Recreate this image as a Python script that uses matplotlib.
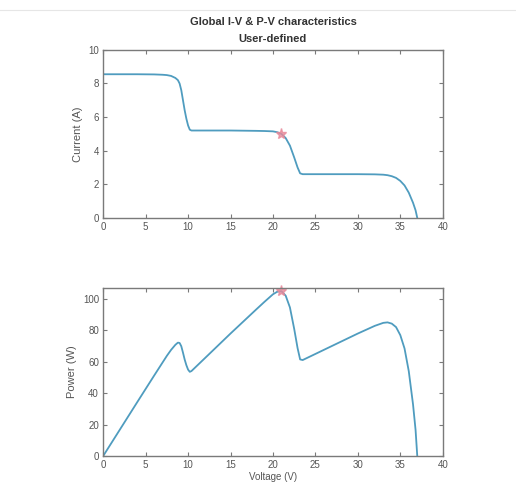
import matplotlib
matplotlib.use("Agg")
import matplotlib.pyplot as plt
from matplotlib.lines import Line2D

voltage = [0, 2, 4, 6, 7, 7.5, 8, 8.5, 8.8, 9.0, 9.2, 9.4, 9.6, 9.8, 10.0, 10.2, 10.4,
           12, 15, 18, 19, 20, 20.5, 21, 21.5, 22, 22.5, 22.9, 23.2, 23.5,
           26, 30, 32, 33, 33.5, 34, 34.5, 35, 35.5, 36, 36.5, 36.8, 37]
current = [8.55, 8.55, 8.55, 8.54, 8.52, 8.5, 8.45, 8.33, 8.2, 8.0, 7.6, 7.0, 6.4, 5.9,
           5.5, 5.25, 5.2, 5.2, 5.2, 5.18, 5.17, 5.15, 5.1, 5.0, 4.75, 4.3, 3.6, 3.0,
           2.65, 2.6, 2.6, 2.6, 2.59, 2.57, 2.54, 2.48, 2.38, 2.2, 1.93, 1.5, 0.9, 0.45, 0.0]
power = [0, 17.1, 34.2, 51.2, 59.6, 63.8, 67.6, 70.8, 72.2, 72.0, 69.9, 65.8, 61.4, 57.8,
         55.0, 53.6, 54.1, 62.4, 78.0, 93.2, 98.2, 103.0, 104.6, 105.0, 102.1, 94.6,
         81.0, 68.7, 61.5, 61.1, 67.6, 78.0, 82.9, 84.8, 85.1, 84.3, 82.1, 77.0, 68.5,
         54.0, 32.9, 16.6, 0.0]
mpp_v = 21.0
mpp_i = 5.0
mpp_p = 105.0

title_lines = ["Global I-V & P-V characteristics", "User-defined"]
x_ticks = [0, 5, 10, 15, 20, 25, 30, 35, 40]
i_ticks = [0, 2, 4, 6, 8, 10]
p_ticks = [0, 20, 40, 60, 80, 100]

plt.rcParams['font.family'] = ['Liberation Sans', 'DejaVu Sans']
line_color = '#4f9cbf'
grey = '#555555'
spine_grey = '#7a7a7a'

fig = plt.figure(figsize=(5.16, 4.94), dpi=100)
fig.patch.set_facecolor('white')
fig.add_artist(Line2D([0, 1], [1 - 10/494, 1 - 10/494], color='#e6e6e6', lw=0.8,
                      transform=fig.transFigure))

ax1 = fig.add_axes([0.2, 0.559, 0.658, 0.340])
ax2 = fig.add_axes([0.2, 0.077, 0.658, 0.340])

ax1.plot(voltage, current, color=line_color, lw=1.3)
ax1.plot([mpp_v], [mpp_i], marker='*', color='#e88a9a', ms=8, alpha=0.8, ls='none')
ax1.set_xlim(0, 40)
ax1.set_ylim(0, 10)
ax1.set_xticks(x_ticks)
ax1.set_yticks(i_ticks)
ax1.set_ylabel("Current (A)", color=grey, fontsize=8)
ax1.set_title("\n".join(title_lines), fontsize=8, fontweight='bold', color='#333333',
              pad=6, linespacing=1.8)

ax2.plot(voltage, power, color=line_color, lw=1.3)
ax2.plot([mpp_v], [mpp_p], marker='*', color='#e88a9a', ms=8, alpha=0.8, ls='none',
         clip_on=False)
ax2.set_xlim(0, 40)
ax2.set_ylim(0, 107)
ax2.set_xticks(x_ticks)
ax2.set_yticks(p_ticks)
ax2.set_ylabel("Power (W)", color=grey, fontsize=8)
ax2.set_xlabel("Voltage (V)", color=grey, fontsize=7, labelpad=1)

for ax in (ax1, ax2):
    for s in ax.spines.values():
        s.set_color(spine_grey)
        s.set_linewidth(1.0)
    ax.tick_params(direction='in', top=True, right=True, length=3, width=0.8,
                   colors=spine_grey, labelcolor=grey, labelsize=7, pad=3)

fig.savefig("out.png", dpi=100, facecolor='white')
